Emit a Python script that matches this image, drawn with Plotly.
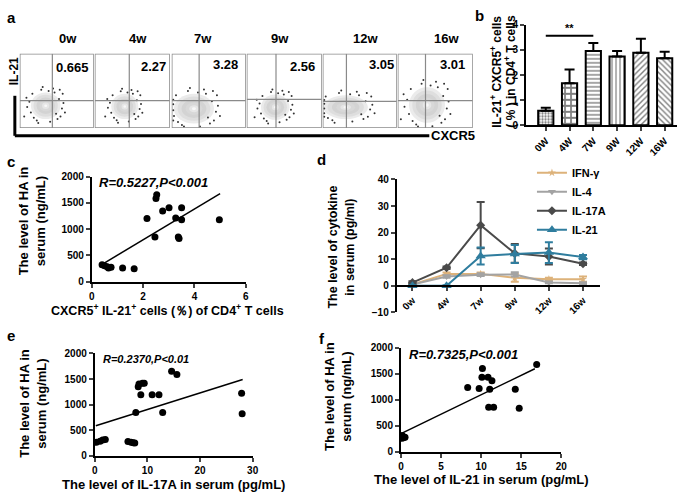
import plotly.graph_objects as go

W, H = 685, 499
FONT = "Liberation Sans"

# ---------------- data ----------------
# Panel a (flow cytometry)
flow_weeks = ["0w", "4w", "7w", "9w", "12w", "16w"]
flow_values = ["0.665", "2.27", "3.28", "2.56", "3.05", "3.01"]
flow_gate_x = [0.44, 0.46, 0.37, 0.39, 0.32, 0.37]
flow_gate_y = [0.37, 0.37, 0.37, 0.385, 0.36, 0.37]
flow_blob_cx = [0.35, 0.40, 0.30, 0.38, 0.31, 0.39]
flow_blob_cy = [0.30, 0.29, 0.26, 0.28, 0.28, 0.31]
flow_blob_rx = [0.20, 0.18, 0.27, 0.19, 0.30, 0.24]
flow_blob_ry = [0.18, 0.17, 0.20, 0.17, 0.16, 0.24]
flow_dot_dx = [-1.1, -1.0, -0.9, -1.25, -0.6, -0.3, 0.2, 0.6, 0.9, 1.1, 1.0, 1.2, 0.8, -0.8, 0.3, -0.2, 1.3, -1.3, 0.5, 0.95, -0.5, 1.15, -1.45, 0.7]
flow_dot_dy = [0.3, -0.5, 0.9, -0.1, -1.1, 1.2, 1.1, 1.0, 0.5, -0.2, -0.8, 0.2, -1.0, -0.9, -1.2, 1.4, -0.5, 0.6, 1.3, 1.2, -1.3, 0.9, -0.8, -0.6]

# Panel b
b_cats = ["0W", "4W", "7W", "9W", "12W", "16W"]
b_means = [0.58, 1.68, 2.96, 2.74, 2.89, 2.67]
b_upper = [0.70, 2.22, 3.28, 2.96, 3.45, 2.93]
b_patterns = [".", "+", "-", "|", "/", "\\"]
b_sig_level = 3.57

# Panel c
c_x = [0.40, 0.50, 0.60, 0.65, 0.75, 1.20, 1.65, 2.15, 2.46, 2.50, 2.53, 2.76, 3.01, 3.27, 3.37, 3.40, 3.50, 3.50, 4.97]
c_y = [320, 300, 280, 260, 270, 260, 245, 1205, 850, 1585, 1658, 1348, 1410, 1211, 850, 820, 1410, 1180, 1180]
c_fit_x = [0.45, 5.0]
c_fit_y = [342, 1677]

# Panel d
d_weeks = ["0w", "4w", "7w", "9w", "12w", "16w"]
d_ifng = [0.5, 4.5, 4.5, 3.0, 2.5, 2.5]
d_ifng_err = [0.3, 0.5, 0.5, 1.5, 0.5, 1.0]
d_il4 = [0.5, 3.5, 4.2, 4.3, 1.3, 1.0]
d_il4_err = [0.3, 0.5, 0.5, 0.8, 0.3, 0.3]
d_il17a = [1.2, 6.8, 22.8, 12.2, 11.0, 8.3]
d_il17a_err = [0.5, 0.5, 8.7, 3.5, 3.0, 0.5]
d_il21 = [0.0, 0.0, 11.2, 12.0, 12.5, 10.8]
d_il21_err = [0.2, 0.2, 3.2, 3.4, 3.9, 0.8]

# Panel e
e_x = [0.3, 1.0, 1.5, 2.0, 6.3, 6.9, 7.3, 7.6, 7.8, 8.25, 8.4, 8.75, 9.06, 9.4, 10.9, 12.2, 12.9, 14.6, 15.6, 27.9, 28.0]
e_y = [265, 285, 310, 320, 280, 265, 255, 250, 845, 1352, 1403, 1194, 1416, 1416, 1194, 1194, 845, 1651, 1587, 1225, 825]
e_fit_x = [0.2, 28.1]
e_fit_y = [590, 1492]

# Panel f
f_x = [0.05, 0.1, 0.15, 0.3, 0.5, 8.32, 9.75, 10.16, 10.1, 10.86, 11.35, 11.07, 10.94, 11.56, 14.26, 14.75, 16.93]
f_y = [300, 260, 310, 270, 280, 1231, 1212, 1600, 1431, 1431, 1362, 1200, 856, 856, 1200, 837, 1675]
f_fit_x = [0.2, 16.7]
f_fit_y = [362, 1594]


# ---------------- helpers ----------------
def xd(x0, x1):
    return [x0 / W, x1 / W]


def yd(y0, y1):
    return [1 - y1 / H, 1 - y0 / H]


def px(x):
    return x / W


def py(y):
    return 1 - y / H


BOLD = dict(family=FONT, color="black", weight="bold")

fig = go.Figure()
layout = dict(
    width=W, height=H, margin=dict(l=0, r=0, t=0, b=0),
    plot_bgcolor="white", paper_bgcolor="white",
    font=dict(family=FONT, color="black"),
    showlegend=True,
)
annotations = []
shapes = []


def ann(x, y, text, size=12, angle=0, italic=False, xanchor="center", yanchor="middle", weight="bold"):
    annotations.append(dict(
        x=px(x), y=py(y), xref="paper", yref="paper", text=text, showarrow=False,
        textangle=angle, xanchor=xanchor, yanchor=yanchor,
        font=dict(family=FONT, size=size, color="black", weight=weight,
                  style="italic" if italic else "normal"),
    ))


# ---------------- panel a ----------------
flow_boxes = [(17, 92), (93, 169), (171, 246), (247, 323), (324, 399), (400, 476)]
flow_top, flow_bot = 49, 125
blob_levels = [(1.0, "#ebebeb"), (0.82, "#dedede"), (0.62, "#d3d3d3"), (0.42, "#d8d8d8"), (0.24, "#e6e6e6"), (0.1, "#f8f8f8")]
for i, (bx0, bx1) in enumerate(flow_boxes):
    k = i + 1
    xa = "xaxis" if k == 1 else f"xaxis{k}"
    ya = "yaxis" if k == 1 else f"yaxis{k}"
    xr = "x" if k == 1 else f"x{k}"
    yr = "y" if k == 1 else f"y{k}"
    layout[xa] = dict(domain=xd(bx0, bx1), range=[0, 1], anchor=yr, visible=False)
    layout[ya] = dict(domain=yd(flow_top, flow_bot), range=[0, 1], anchor=xr, visible=False)
    cx, cy, rx, ry = flow_blob_cx[i], flow_blob_cy[i], flow_blob_rx[i], flow_blob_ry[i]
    for f, col in blob_levels:
        shapes.append(dict(type="circle", xref=xr, yref=yr, x0=cx - rx * f, x1=cx + rx * f,
                           y0=cy - ry * f, y1=cy + ry * f, fillcolor=col, line=dict(width=0), layer="below"))
    dxs = [min(0.98, max(0.02, cx + d * rx)) for d in flow_dot_dx]
    dys = [min(0.98, max(0.02, cy + d * ry)) for d in flow_dot_dy]
    fig.add_trace(go.Scatter(x=dxs, y=dys, mode="markers", xaxis=xr, yaxis=yr, showlegend=False,
                             marker=dict(size=2, color="#333333"), hoverinfo="skip"))
    shapes.append(dict(type="line", xref=xr, yref=yr, x0=flow_gate_x[i], x1=flow_gate_x[i], y0=0, y1=1,
                       line=dict(color="#8a8a8a", width=1.2)))
    shapes.append(dict(type="line", xref=xr, yref=yr, x0=0, x1=1, y0=flow_gate_y[i], y1=flow_gate_y[i],
                       line=dict(color="#8a8a8a", width=1.2)))
    shapes.append(dict(type="rect", xref=xr, yref=yr, x0=0, x1=1, y0=0, y1=1,
                       line=dict(color="#8a8a8a", width=1.5)))

week_label_x = [66, 137, 203, 281, 367, 449]
value_label = [(70, 63), (152, 62), (225, 60), (303, 62), (384, 60), (455, 60)]
for i in range(6):
    ann(week_label_x[i], 33, flow_weeks[i], size=13)
    ann(value_label[i][0], value_label[i][1], flow_values[i], size=13)
ann(12, 67, "IL-21", size=12, angle=-90)
ann(432, 133, "CXCR5", size=13, xanchor="left")
shapes.append(dict(type="line", xref="paper", yref="paper", x0=px(12), x1=px(12), y0=py(92), y1=py(133),
                   line=dict(color="black", width=3)))
shapes.append(dict(type="line", xref="paper", yref="paper", x0=px(12), x1=px(432), y0=py(133), y1=py(133),
                   line=dict(color="black", width=3)))

# ---------------- panel b ----------------
layout["xaxis7"] = dict(domain=xd(530, 683), range=[-0.83, 5.52], anchor="y7", showgrid=False, zeroline=False,
                        showline=True, linecolor="black", linewidth=2, ticks="outside", ticklen=4, tickwidth=2,
                        tickangle=-45, tickfont=dict(BOLD, size=10), type="category")
layout["yaxis7"] = dict(domain=yd(19.3, 122.3), range=[0, 4], anchor="x7", showgrid=False, zeroline=False,
                        showline=True, linecolor="black", linewidth=2, ticks="outside", ticklen=4, tickwidth=2,
                        dtick=1, tickfont=dict(BOLD, size=10))
fig.add_trace(go.Bar(
    x=b_cats, y=b_means, xaxis="x7", yaxis="y7", width=0.64, showlegend=False,
    marker=dict(color="white", line=dict(color="black", width=2),
                pattern=dict(shape=b_patterns, fgcolor="black", bgcolor="white",
                             size=[3, 6, 4, 4, 4, 4], solidity=[0.45, 0.5, 0.35, 0.3, 0.35, 0.35])),
    error_y=dict(type="data", symmetric=False, array=[u - m for u, m in zip(b_upper, b_means)],
                 arrayminus=[0] * 6, color="black", thickness=2, width=5),
))
shapes.append(dict(type="line", xref="x7", yref="y7", x0=0, x1=2, y0=b_sig_level, y1=b_sig_level,
                   line=dict(color="black", width=2)))
annotations.append(dict(x=1, y=b_sig_level, xref="x7", yref="y7", text="**", showarrow=False, yanchor="bottom",
                        font=dict(BOLD, size=11)))
ann(500, 67, "IL-21<sup>+</sup> CXCR5<sup>+</sup> cells", size=12, angle=-90)
ann(514, 67, "( % ) in CD4<sup>+</sup> T cells", size=12, angle=-90)


# ---------------- scatter panels helper ----------------
def scatter_axes(n, x0, x1, y0, y1, xrange, xdtick, yrange, ydtick):
    layout[f"xaxis{n}"] = dict(domain=xd(x0, x1), range=xrange, dtick=xdtick, anchor=f"y{n}", showgrid=False,
                               zeroline=False, showline=True, linecolor="black", linewidth=2, ticks="outside",
                               ticklen=4, tickwidth=2, tickfont=dict(BOLD, size=10))
    layout[f"yaxis{n}"] = dict(domain=yd(y0, y1), range=yrange, dtick=ydtick, anchor=f"x{n}", showgrid=False,
                               zeroline=False, showline=True, linecolor="black", linewidth=2, ticks="outside",
                               ticklen=4, tickwidth=2, tickfont=dict(BOLD, size=10))


def scatter_data(n, xs, ys, fx, fy):
    fig.add_trace(go.Scatter(x=fx, y=fy, mode="lines", xaxis=f"x{n}", yaxis=f"y{n}", showlegend=False,
                             line=dict(color="black", width=1.5)))
    fig.add_trace(go.Scatter(x=xs, y=ys, mode="markers", xaxis=f"x{n}", yaxis=f"y{n}", showlegend=False,
                             marker=dict(size=7, color="black")))


# panel c
scatter_axes(8, 90, 246, 175, 282.3, [0, 6], 2, [0, 2000], 500)
scatter_data(8, c_x, c_y, c_fit_x, c_fit_y)
ann(152, 181, "R=0.5227,P<0.001", size=13, italic=True)
ann(29, 220, "The level of HA in<br>serum (ng/mL)", size=13, angle=-90)
ann(167, 312, "CXCR5<sup>+</sup> IL-21<sup>+</sup> cells (％) of CD4<sup>+</sup> T cells", size=12.5)

# panel e
scatter_axes(10, 93, 253, 356, 461, [0, 30], 10, [0, 2000], 500)
scatter_data(10, e_x, e_y, e_fit_x, e_fit_y)
ann(145, 362, "R=0.2370,P<0.01", size=11, italic=True)
ann(31, 407, "The level of HA in<br>serum (ng/mL)", size=13, angle=-90)
ann(173, 490, "The level of IL-17A in serum (pg/mL)", size=13)

# panel f
scatter_axes(11, 403.3, 565.7, 350, 456.7, [0, 20], 5, [0, 2000], 500)
scatter_data(11, f_x, f_y, f_fit_x, f_fit_y)
ann(467, 357, "R=0.7325,P<0.001", size=13, italic=True)
ann(340, 400, "The level of HA in<br>serum (ng/mL)", size=13, angle=-90)
ann(485, 485, "The level of IL-21 in serum (pg/mL)", size=13)

# ---------------- panel d ----------------
layout["xaxis9"] = dict(domain=xd(399, 605), range=[-0.46, 5.5], anchor="free", position=py(286.7),
                        type="category", showgrid=False, zeroline=False, showline=True, linecolor="black",
                        linewidth=2, ticks="outside", ticklen=4, tickwidth=2, tickangle=-45,
                        tickfont=dict(BOLD, size=10))
layout["yaxis9"] = dict(domain=yd(177.7, 314), range=[-10, 40], dtick=10, anchor="x9", showgrid=False,
                        zeroline=False, showline=True, linecolor="black", linewidth=2, ticks="outside",
                        ticklen=4, tickwidth=2, tickfont=dict(BOLD, size=10))
series = [
    ("IFN-γ", d_ifng, d_ifng_err, "#DDB27A", "star", 6),
    ("IL-4", d_il4, d_il4_err, "#A3A3A3", "triangle-down", 7),
    ("IL-17A", d_il17a, d_il17a_err, "#4A4A4A", "diamond", 7),
    ("IL-21", d_il21, d_il21_err, "#2F7D9E", "triangle-up", 9),
]
for name, vals, errs, col, sym, sz in series:
    fig.add_trace(go.Scatter(
        x=d_weeks, y=vals, name=name, mode="lines+markers", xaxis="x9", yaxis="y9",
        line=dict(color=col, width=2), marker=dict(symbol=sym, size=sz, color=col),
        error_y=dict(type="data", array=errs, color=col, thickness=2, width=4),
    ))
layout["legend"] = dict(x=px(536), y=py(156), xanchor="left", yanchor="top", bgcolor="rgba(0,0,0,0)",
                        font=dict(BOLD, size=11), tracegroupgap=0, itemwidth=30)
ann(343, 247, "The level of cytokine<br>in serum (pg/ml)", size=12.5, angle=-90)

# panel letters
for (lx, ly, t) in [(9, 12, "a"), (483, 10, "b"), (8, 159, "c"), (323, 157, "d"), (8, 338, "e"), (323, 341, "f")]:
    ann(lx, ly, t, size=15)

layout["annotations"] = annotations
layout["shapes"] = shapes
fig.update_layout(**layout)
fig.write_html("out.html", config={"displayModeBar": False},
               post_script="document.body.style.margin='0';document.body.style.overflow='hidden';")
